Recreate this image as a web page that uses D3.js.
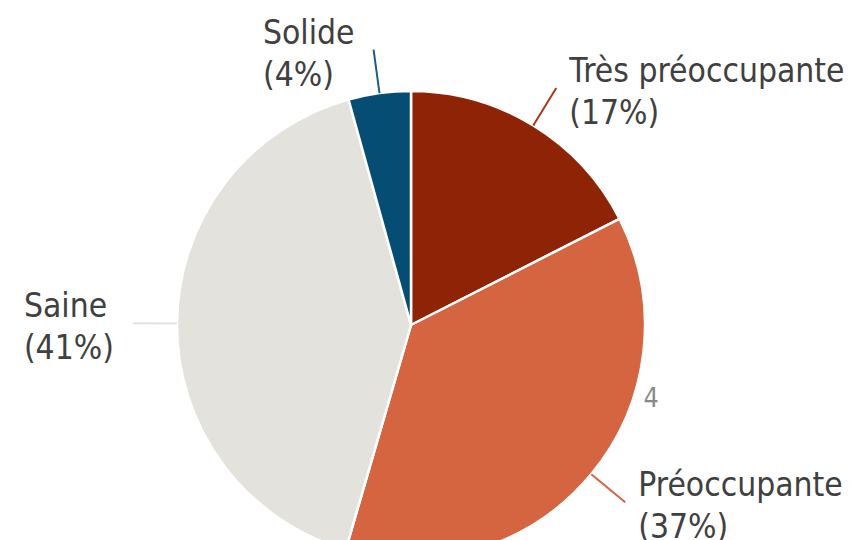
<!DOCTYPE html>
<html><head><meta charset="utf-8">
<script src="https://cdn.jsdelivr.net/npm/d3@7"></script>
<style>
html,body{margin:0;padding:0;background:#fff;overflow:hidden}
text{font-family:"DejaVu Sans",Verdana,sans-serif}
</style></head>
<body>
<svg id="chart" width="854" height="540"></svg>
<script>
const categories = ["Très préoccupante", "Préoccupante", "Saine", "Solide"];
const values = [17.5, 37.0, 41.2, 4.3];
const pctLabels = ["(17%)", "(37%)", "(41%)", "(4%)"];
const colors = ["#8f2305", "#d56441", "#e4e2dd", "#064d73"];
const lineColors = ["#a8391c", "#d56441", "#e4e2dd", "#1a5e84"];
const strayLabel = "4";

const cx = 411, cy = 325, R = 234, Rout = 278;
const svg = d3.select("#chart");
const g = svg.append("g").attr("transform", `translate(${cx},${cy})`);

const pie = d3.pie().sort(null).value(d => d.v).startAngle(0).endAngle(2 * Math.PI);
const data = categories.map((c, i) => ({c, v: values[i], p: pctLabels[i], col: colors[i], lc: lineColors[i]}));
const arcs = pie(data);
const arc = d3.arc().innerRadius(0).outerRadius(R);

g.selectAll("path.slice").data(arcs).join("path")
  .attr("class", "slice")
  .attr("d", arc)
  .attr("fill", d => d.data.col)
  .attr("stroke", "#fff")
  .attr("stroke-width", 2.5)
  .attr("stroke-linejoin", "round");

const pt = (a, r) => [r * Math.sin(a), -r * Math.cos(a)];

const fs = 30, lh = 42, sy = 1.1;
arcs.forEach(d => {
  const a = (d.startAngle + d.endAngle) / 2;
  const p0 = pt(a, R), p1 = pt(a, Rout);
  g.append("line")
    .attr("x1", p0[0]).attr("y1", p0[1]).attr("x2", p1[0]).attr("y2", p1[1])
    .attr("stroke", d.data.lc).attr("stroke-width", 2);
  const right = Math.sin(a) > 0;
  const t = g.append("text")
    .attr("fill", "#404040")
    .attr("font-size", fs);
  const l1 = t.append("tspan").attr("x", 0).attr("y", 0).text(d.data.c);
  const l2 = t.append("tspan").attr("x", 0).attr("y", lh / sy).text(d.data.p);
  let x;
  if (right) {
    x = p1[0] + 13;
  } else {
    const w = Math.max(l1.node().getComputedTextLength(), l2.node().getComputedTextLength());
    x = p1[0] - 19 - w;
  }
  t.attr("transform", `translate(${x},${p1[1] - 6}) scale(1,${sy})`);
});

// stray label beside the Préoccupante slice
const aStray = arcs[1].startAngle + (arcs[1].endAngle - arcs[1].startAngle) * 0.33;
const ps = pt(aStray, R + 17);
g.append("text")
  .attr("transform", `translate(${ps[0]},${ps[1] + 9}) scale(1,${sy})`)
  .attr("text-anchor", "middle")
  .attr("fill", "#8a8a8a")
  .attr("font-size", 24)
  .text(strayLabel);
</script>
</body></html>
